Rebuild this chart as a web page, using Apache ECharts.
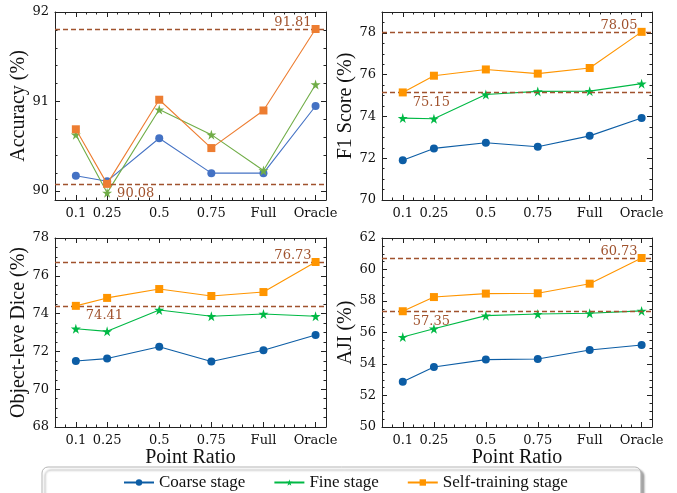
<!DOCTYPE html>
<html><head><meta charset="utf-8">
<script src="https://cdn.jsdelivr.net/npm/echarts@6/dist/echarts.min.js"></script>
<style>html,body{margin:0;padding:0;background:#fff}#c{width:677px;height:493px}</style>
</head><body><div id="c"></div>
<script>
// ---- data ----
const xPos = [0.1, 0.25, 0.5, 0.75, 1.0, 1.25];
const xLabels = ['0.1', '0.25', '0.5', '0.75', 'Full', 'Oracle'];
const seriesNames = ['Coarse stage', 'Fine stage', 'Self-training stage'];

const accCoarse = [90.17, 90.11, 90.59, 90.20, 90.20, 90.95];
const accFine   = [90.63, 89.98, 90.91, 90.63, 90.23, 91.19];
const accSelf   = [90.69, 90.08, 91.02, 90.48, 90.90, 91.81];

const f1Coarse = [71.90, 72.47, 72.74, 72.55, 73.07, 73.93];
const f1Fine   = [73.92, 73.89, 75.05, 75.20, 75.21, 75.57];
const f1Self   = [75.15, 75.95, 76.25, 76.05, 76.32, 78.05];

const diceCoarse = [71.49, 71.62, 72.25, 71.47, 72.06, 72.87];
const diceFine   = [73.20, 73.06, 74.19, 73.86, 73.98, 73.86];
const diceSelf   = [74.41, 74.83, 75.30, 74.93, 75.14, 76.73];

const ajiCoarse = [52.88, 53.81, 54.28, 54.32, 54.89, 55.21];
const ajiFine   = [55.71, 56.24, 57.07, 57.17, 57.22, 57.37];
const ajiSelf   = [57.35, 58.25, 58.47, 58.49, 59.10, 60.73];

const accTicks  = [90, 91, 92];
const f1Ticks   = [70, 72, 74, 76, 78];
const diceTicks = [68, 70, 72, 74, 76, 78];
const ajiTicks  = [50, 52, 54, 56, 58, 60, 62];

// ---- layout / style ----
const TICK_FONT = 'DejaVu Serif';
const NAME_FONT = 'Liberation Serif';
const SIENNA = '#A0522D';
const paletteA = ['#4472C4', '#70AD47', '#ED7D31'];
const paletteB = ['#0C5DA5', '#00B945', '#FF9500'];
const STAR = 'path://M50,0 L61,35 L98,35 L68,57 L79,91 L50,70 L21,91 L32,57 L2,35 L39,35 Z';
const symbols = ['circle', STAR, 'rect'];
const symSizes = [8, 10, 8];

const panels = [
  {name: 'F1 Score (%)', grid: {left: 382, top: 12, width: 270, height: 188}, ymin: 70, ymax: 79, ticks: f1Ticks, minor: 0.5, data: [f1Coarse, f1Fine, f1Self], pal: paletteB, xname: ''},
  {name: 'Object-leve Dice (%)', grid: {left: 55, top: 238, width: 271, height: 189}, ymin: 68, ymax: 78, ticks: diceTicks, minor: 0.5, data: [diceCoarse, diceFine, diceSelf], pal: paletteB, xname: 'Point Ratio'},
  {name: 'AJI (%)', grid: {left: 382, top: 238, width: 270, height: 189}, ymin: 50, ymax: 62, ticks: ajiTicks, minor: 0.5, data: [ajiCoarse, ajiFine, ajiSelf], pal: paletteB, xname: 'Point Ratio'},
  {name: 'Accuracy (%)', grid: {left: 55, top: 12, width: 271, height: 188}, ymin: 89.9, ymax: 92, ticks: accTicks, minor: 0.2, data: [accCoarse, accFine, accSelf], pal: paletteA, xname: ''}
];

const XMIN = 0, XMAX = 1.3;
function range(a, b, s) { const r = []; for (let v = Math.ceil(a / s - 1e-9) * s; v <= b + 1e-9; v += s) r.push(+v.toFixed(4)); return r; }
const xMinor = range(XMIN, XMAX, 0.05);

const grids = [], xAxes = [], yAxes = [], series = [];
const lineColor = '#222';

panels.forEach((p, gi) => {
  grids.push(Object.assign({containLabel: false}, p.grid));
  const yMinor = range(p.ymin, p.ymax, p.minor);
  const xBase = xAxes.length, yBase = yAxes.length;
  const commonX = {type: 'value', gridIndex: gi, min: XMIN, max: XMAX, splitLine: {show: false}};
  const commonY = {type: 'value', gridIndex: gi, min: p.ymin, max: p.ymax, splitLine: {show: false}};
  // bottom major
  xAxes.push(Object.assign({}, commonX, {
    position: 'bottom',
    name: p.xname, nameLocation: 'middle', nameGap: 21,
    nameTextStyle: {fontFamily: NAME_FONT, fontSize: 20, color: '#111'},
    axisLine: {show: true, onZero: false, lineStyle: {color: lineColor, width: 1}},
    axisTick: {show: true, inside: true, length: 5, customValues: xPos, lineStyle: {color: lineColor}},
    axisLabel: {show: true, customValues: xPos, margin: 7, fontFamily: TICK_FONT, fontSize: 13, color: '#111',
      formatter: v => { const i = xPos.findIndex(x => Math.abs(x - v) < 1e-6); return i >= 0 ? xLabels[i] : ''; }}
  }));
  // bottom minor
  xAxes.push(Object.assign({}, commonX, {position: 'bottom', axisLine: {show: false, onZero: false},
    axisTick: {show: true, inside: true, length: 2.5, customValues: xMinor, lineStyle: {color: lineColor}}, axisLabel: {show: false}}));
  // top major / minor
  xAxes.push(Object.assign({}, commonX, {position: 'top', axisLine: {show: true, onZero: false, lineStyle: {color: lineColor, width: 1}},
    axisTick: {show: true, inside: true, length: 5, customValues: xPos, lineStyle: {color: lineColor}}, axisLabel: {show: false}}));
  xAxes.push(Object.assign({}, commonX, {position: 'top', axisLine: {show: false, onZero: false},
    axisTick: {show: true, inside: true, length: 2.5, customValues: xMinor, lineStyle: {color: lineColor}}, axisLabel: {show: false}}));
  // left major
  yAxes.push(Object.assign({}, commonY, {
    position: 'left',
    name: p.name, nameLocation: 'middle', nameGap: 23, nameRotate: 90,
    nameTextStyle: {fontFamily: NAME_FONT, fontSize: 20, color: '#111'},
    axisLine: {show: true, onZero: false, lineStyle: {color: lineColor, width: 1}},
    axisTick: {show: true, inside: true, length: 5, customValues: p.ticks, lineStyle: {color: lineColor}},
    axisLabel: {show: true, customValues: p.ticks, margin: 6, fontFamily: TICK_FONT, fontSize: 13, color: '#111'}
  }));
  yAxes.push(Object.assign({}, commonY, {position: 'left', axisLine: {show: false, onZero: false},
    axisTick: {show: true, inside: true, length: 2.5, customValues: yMinor, lineStyle: {color: lineColor}}, axisLabel: {show: false}}));
  yAxes.push(Object.assign({}, commonY, {position: 'right', axisLine: {show: true, onZero: false, lineStyle: {color: lineColor, width: 1}},
    axisTick: {show: true, inside: true, length: 5, customValues: p.ticks, lineStyle: {color: lineColor}}, axisLabel: {show: false}}));
  yAxes.push(Object.assign({}, commonY, {position: 'right', axisLine: {show: false, onZero: false},
    axisTick: {show: true, inside: true, length: 2.5, customValues: yMinor, lineStyle: {color: lineColor}}, axisLabel: {show: false}}));

  p.data.forEach((vals, si) => {
    const s = {
      type: 'line', name: seriesNames[si], xAxisIndex: xBase, yAxisIndex: yBase,
      data: vals.map((v, i) => [xPos[i], v]),
      symbol: symbols[si], symbolSize: symSizes[si], showSymbol: true,
      lineStyle: {color: p.pal[si], width: 1.1},
      itemStyle: {color: p.pal[si]},
      z: 3 + si
    };
    if (si === 2) {
      const hi = Math.max(...vals), lo = Math.min(...vals);
      const hiI = vals.indexOf(hi), loI = vals.indexOf(lo);
      s.markLine = {
        silent: true, symbol: ['none', 'none'], animation: false,
        lineStyle: {color: SIENNA, type: [5, 3], width: 1.3},
        label: {show: false},
        data: [{yAxis: hi}, {yAxis: lo}]
      };
      s.markPoint = {
        silent: true, symbol: 'circle', symbolSize: 0.01, animation: false,
        data: [
          {coord: [xPos[hiI], hi], value: hi.toFixed(2), label: {show: true, position: 'left', distance: 4, offset: [0, -6], formatter: hi.toFixed(2), color: SIENNA, fontFamily: TICK_FONT, fontSize: 13}},
          {coord: [xPos[loI], lo], value: lo.toFixed(2), label: {show: true, position: 'right', distance: 10, offset: [0, 10], formatter: lo.toFixed(2), color: SIENNA, fontFamily: TICK_FONT, fontSize: 13}}
        ]
      };
    }
    series.push(s);
  });
});

const chart = echarts.init(document.getElementById('c'), null, {renderer: 'canvas'});
chart.setOption({
  animation: false,
  backgroundColor: '#fff',
  grid: grids, xAxis: xAxes, yAxis: yAxes, series: series,
  legend: {
    data: seriesNames, left: 42, top: 467,
    padding: [7, 73, 12, 81], itemGap: 28, itemWidth: 30, itemHeight: 8,
    textStyle: {fontFamily: NAME_FONT, fontSize: 17, color: '#111'},
    borderColor: '#b5b5b5', borderWidth: 1, borderRadius: 6,
    backgroundColor: '#fff',
    shadowColor: 'rgba(0,0,0,0.35)', shadowBlur: 2, shadowOffsetX: 3, shadowOffsetY: 3
  }
});
</script></body></html>
